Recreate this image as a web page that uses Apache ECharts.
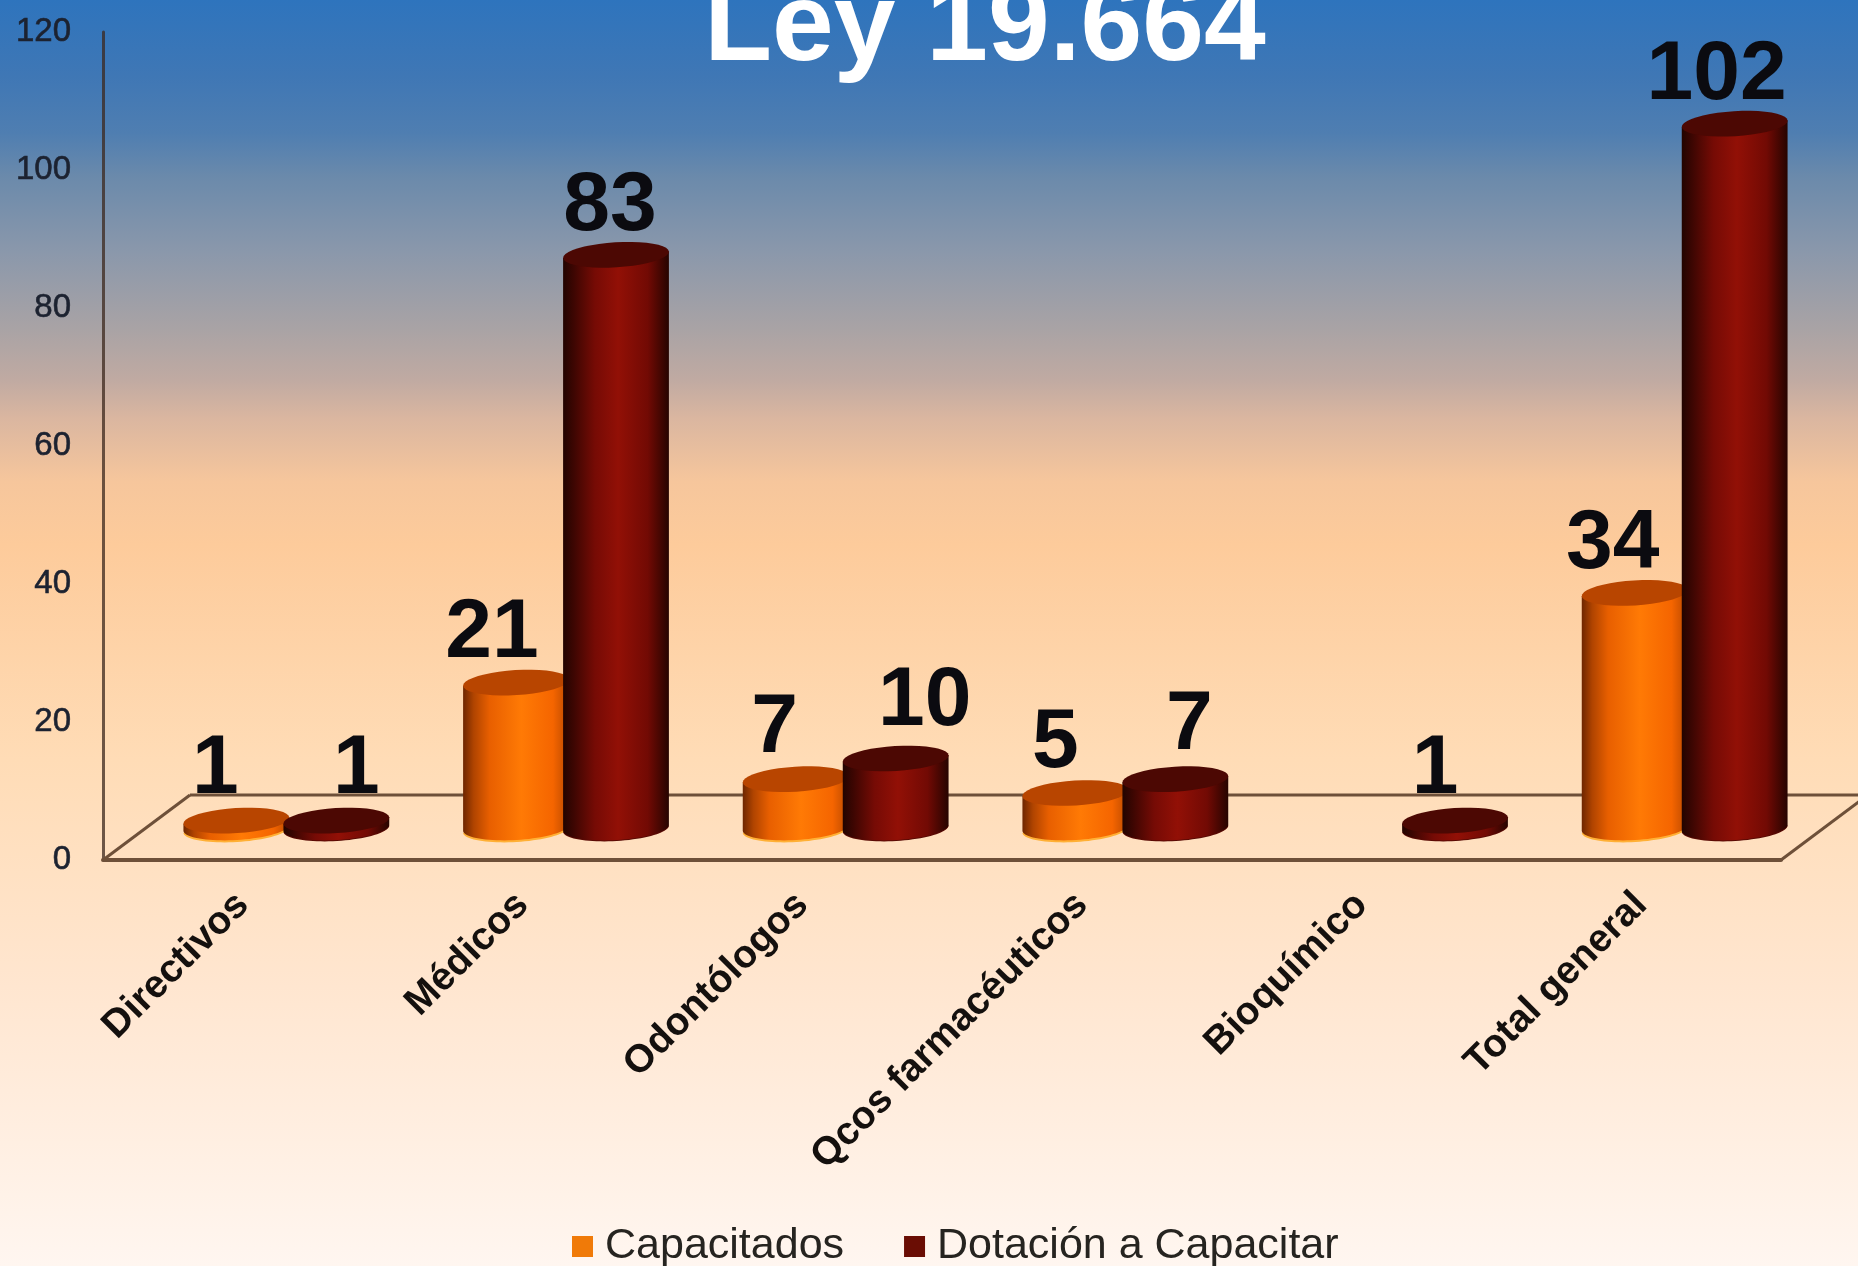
<!DOCTYPE html>
<html>
<head>
<meta charset="utf-8">
<style>html,body{margin:0;padding:0;width:1858px;height:1266px;overflow:hidden}#c{width:1858px;height:1266px}</style>
<script src="https://cdn.jsdelivr.net/npm/echarts@6/dist/echarts.min.js"></script>
</head>
<body>
<div id="c"></div>
<script>
const categories = ['Directivos', 'Médicos', 'Odontólogos', 'Qcos farmacéuticos', 'Bioquímico', 'Total general'];
const capacitados = [1, 21, 7, 5, null, 34];
const dotacion = [1, 83, 10, 7, 1, 102];
const yTicks = {min: 0, max: 120, interval: 20};
const titleText = 'Ley 19.664';

const FONT = '"Liberation Sans", Arial, sans-serif';
const DEPTH_X = 87, DEPTH_Y = 65;
const RX = 53, RY = 12.5, TILT = -3.5 * Math.PI / 180;

function ellipsePts(cx, cy, from, to) {
  const pts = [];
  const n = 40;
  for (let i = 0; i <= n; i++) {
    const t = from + (to - from) * i / n;
    const ex = RX * Math.cos(t), ey = RY * Math.sin(t);
    pts.push([cx + ex * Math.cos(TILT) - ey * Math.sin(TILT), cy + ex * Math.sin(TILT) + ey * Math.cos(TILT)]);
  }
  return pts;
}
function grad(stops) {
  return new echarts.graphic.LinearGradient(0, 0, 1, 0, stops.map((s) => ({offset: s[0], color: s[1]})));
}
function cylinderSeries(name, values, cfg) {
  return {
    name, type: 'custom', z: cfg.z,
    itemStyle: {color: cfg.legend},
    encode: {x: 0, y: 1},
    data: values.map((v, i) => [i, v]),
    renderItem(params, api) {
      const idx = api.value(0), val = api.value(1);
      if (val == null || isNaN(val)) return null;
      const base = api.coord([idx, 0]), top = api.coord([idx, val]);
      const cx = base[0] + DEPTH_X / 2 + cfg.shift;
      const by = base[1] - DEPTH_Y / 2, ty = top[1] - DEPTH_Y / 2;
      const lower = ellipsePts(cx, by, 0, Math.PI);
      const tl = ellipsePts(cx, ty, Math.PI, 2 * Math.PI);
      const body = [[cx + RX, ty]].concat(ellipsePts(cx, by, 0, Math.PI)).concat([[cx - RX, ty]]);
      body[0] = tl[tl.length - 1];
      body[body.length - 1] = tl[0];
      const children = [
        {type: 'polygon', shape: {points: lower.map((p) => [p[0], p[1] + cfg.rimSize])}, style: {fill: cfg.rim}},
        {type: 'polygon', shape: {points: body}, style: {fill: grad(cfg.body)}},
        {type: 'polygon', shape: {points: ellipsePts(cx, ty, 0, 2 * Math.PI)}, style: {fill: cfg.top}},
        {type: 'text', style: {
          text: String(val), x: cx + cfg.labelDx[idx], y: ty + cfg.labelDy[idx],
          textAlign: 'center', textVerticalAlign: 'bottom',
          font: 'bold 84px ' + FONT, fill: '#0b0b10'
        }}
      ];
      return {type: 'group', children};
    }
  };
}

const chart = echarts.init(document.getElementById('c'), null, {renderer: 'canvas'});
chart.setOption({
  animation: false,
  backgroundColor: {
    type: 'linear', x: 0, y: 0, x2: 0, y2: 1,
    colorStops: [
      {offset: 0, color: '#2e74bd'}, {offset: 0.06, color: '#3f77b5'}, {offset: 0.105, color: '#4f7eb1'},
      {offset: 0.14, color: '#6b8aab'}, {offset: 0.2, color: '#8b98ab'}, {offset: 0.26, color: '#a9a3a5'},
      {offset: 0.3, color: '#c0aaa2'}, {offset: 0.33, color: '#dab6a0'}, {offset: 0.38, color: '#f6c69c'},
      {offset: 0.43, color: '#fdcb9b'}, {offset: 0.6, color: '#ffdcb6'}, {offset: 0.78, color: '#ffe6d0'},
      {offset: 0.93, color: '#fff1e6'}, {offset: 1, color: '#fff6f0'}
    ]
  },
  title: {
    text: titleText, left: 980, top: -31, textAlign: 'center',
    textStyle: {color: '#ffffff', fontSize: 111, fontWeight: 'bold', fontFamily: FONT}
  },
  legend: {
    data: ['Capacitados', 'Dotación a Capacitar'],
    left: 567, top: 1220, icon: 'rect', itemWidth: 21, itemHeight: 21, itemGap: 60,
    textStyle: {fontSize: 43, fontFamily: FONT, color: '#262420', padding: [0, 0, 0, 7]}
  },
  grid: {left: 103, top: 32, width: 1678, height: 828, containLabel: false},
  xAxis: {
    type: 'category', data: categories,
    axisTick: {show: false},
    axisLine: {lineStyle: {color: '#6e5039', width: 4}},
    axisLabel: {interval: 0, rotate: 45, margin: 39, fontFamily: FONT, fontWeight: 'bold', fontSize: 39, color: '#14100e'}
  },
  yAxis: {
    type: 'value', min: yTicks.min, max: yTicks.max, interval: yTicks.interval,
    splitLine: {show: false}, axisTick: {show: false},
    axisLine: {show: true, lineStyle: {color: 'rgba(60,40,30,0.75)', width: 3}},
    axisLabel: {margin: 32, fontFamily: FONT, fontSize: 33, color: '#1c2230', padding: [0, 0, 8, 0], textBorderColor: '#1c2230', textBorderWidth: 0.6}
  },
  series: [
    {
      type: 'custom', name: 'floor', silent: true, z: 1,
      encode: {x: 0, y: 1},
      data: [[0, 0]],
      renderItem(params) {
        const c = params.coordSys;
        const x0 = c.x, x1 = c.x + c.width, y0 = c.y + c.height;
        const line = (a, b, cc, dd) => ({type: 'line', shape: {x1: a, y1: b, x2: cc, y2: dd}, style: {stroke: '#6e5039', lineWidth: 3}});
        return {type: 'group', children: [
          line(x0, y0, x0 + DEPTH_X, y0 - DEPTH_Y),
          line(x0 + DEPTH_X, y0 - DEPTH_Y, x1 + DEPTH_X, y0 - DEPTH_Y),
          line(x1, y0, x1 + DEPTH_X, y0 - DEPTH_Y)
        ]};
      }
    },
    cylinderSeries('Capacitados', capacitados, {
      z: 2, shift: -50, legend: '#f07a08', rim: '#ffb035', rimSize: 2, top: '#b84500',
      body: [[0, '#6e2600'], [0.1, '#b04400'], [0.25, '#e85f00'], [0.55, '#ff7a05'], [0.85, '#f56500'], [1, '#b84800']],
      labelDx: [-21, -24, -21, -20, 0, -22],
      labelDy: [-9, -7, -8, -7, 0, -6]
    }),
    cylinderSeries('Dotación a Capacitar', dotacion, {
      z: 3, shift: 50, legend: '#6a0d04', rim: '#5a0a04', rimSize: 1, top: '#4c0803',
      body: [[0, '#220400'], [0.1, '#3d0602'], [0.3, '#760b05'], [0.52, '#921006'], [0.8, '#720a04'], [1, '#260400']],
      labelDx: [20, -6, 29, 14, -20, -18],
      labelDy: [-9, -6, -15, -11, -9, -6]
    })
  ]
});
</script>
</body>
</html>
